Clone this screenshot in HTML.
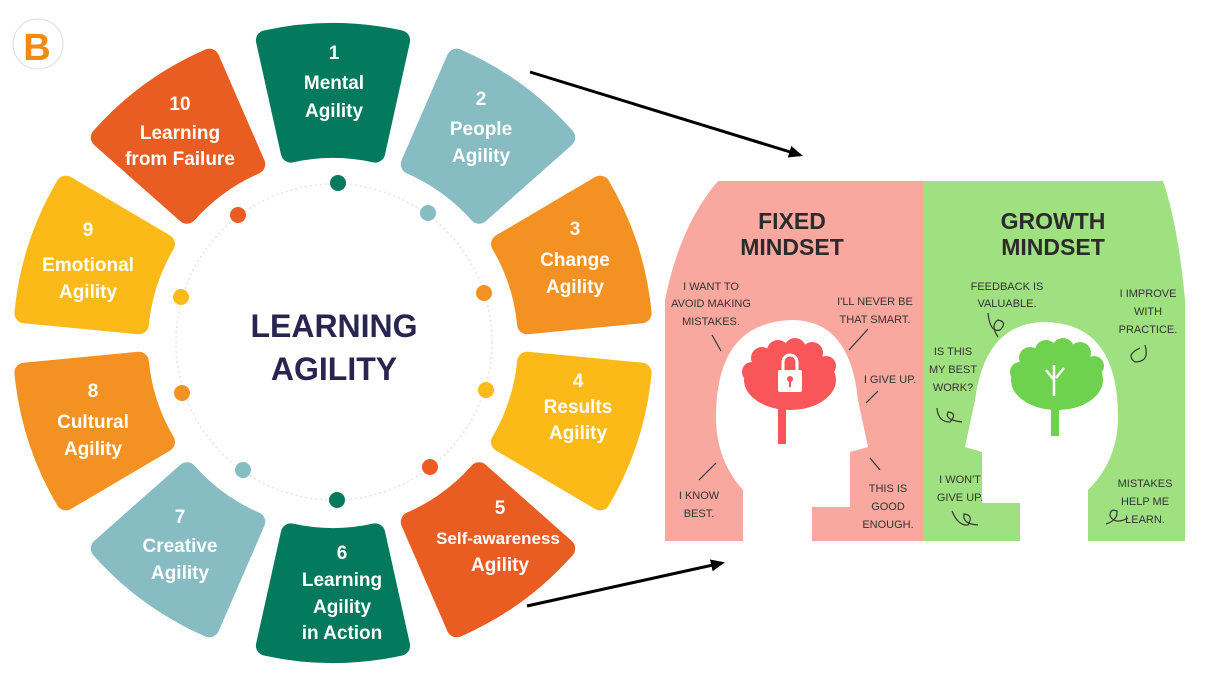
<!DOCTYPE html>
<html><head><meta charset="utf-8"><style>
body{margin:0;background:#fff;width:1219px;height:679px;overflow:hidden}
svg{display:block}
.l{font-family:"Liberation Sans",sans-serif;font-weight:bold;font-size:19px;fill:#fff;text-anchor:middle}
.h{font-family:"Liberation Sans",sans-serif;font-size:11px;fill:#333;text-anchor:middle}
.t{font-family:"Liberation Sans",sans-serif;font-weight:bold;font-size:23px;fill:#2b2b2b;text-anchor:middle}
</style></head><body>
<svg width="1219" height="679" viewBox="0 0 1219 679" xmlns="http://www.w3.org/2000/svg">
<defs>
<path id="seg" d="M265.9,40.3 A310,310 0 0 1 400.1,40.3 L375.2,152.6 A195,195 0 0 0 290.8,152.6 Z" stroke-width="20" stroke-linejoin="round"/>
<marker id="ar" markerWidth="14" markerHeight="14" refX="11" refY="7" orient="auto" markerUnits="userSpaceOnUse"><path d="M0,1 L14,7 L0,13 Z" fill="#000"/></marker>
</defs>
<g>
<use href="#seg" fill="#03795d" stroke="#03795d" transform="rotate(0 333 343)"/>
<use href="#seg" fill="#87bcc2" stroke="#87bcc2" transform="rotate(36 333 343)"/>
<use href="#seg" fill="#f39223" stroke="#f39223" transform="rotate(72 333 343)"/>
<use href="#seg" fill="#fbba18" stroke="#fbba18" transform="rotate(108 333 343)"/>
<use href="#seg" fill="#e95c22" stroke="#e95c22" transform="rotate(144 333 343)"/>
<use href="#seg" fill="#03795d" stroke="#03795d" transform="rotate(180 333 343)"/>
<use href="#seg" fill="#87bcc2" stroke="#87bcc2" transform="rotate(216 333 343)"/>
<use href="#seg" fill="#f39223" stroke="#f39223" transform="rotate(252 333 343)"/>
<use href="#seg" fill="#fbba18" stroke="#fbba18" transform="rotate(288 333 343)"/>
<use href="#seg" fill="#e95c22" stroke="#e95c22" transform="rotate(324 333 343)"/>
</g>
<circle cx="334" cy="342" r="158" fill="none" stroke="#e4e4e4" stroke-width="1.5" stroke-dasharray="2 3"/>
<g>
<circle cx="338" cy="183" r="8" fill="#03795d"/>
<circle cx="428" cy="213" r="8" fill="#87bcc2"/>
<circle cx="484" cy="293" r="8" fill="#f39223"/>
<circle cx="486" cy="390" r="8" fill="#fbba18"/>
<circle cx="430" cy="467" r="8" fill="#e95c22"/>
<circle cx="337" cy="500" r="8" fill="#03795d"/>
<circle cx="243" cy="470" r="8" fill="#87bcc2"/>
<circle cx="182" cy="393" r="8" fill="#f39223"/>
<circle cx="181" cy="297" r="8" fill="#fbba18"/>
<circle cx="238" cy="215" r="8" fill="#e95c22"/>
</g>
<text x="334" y="337" font-family="Liberation Sans,sans-serif" font-weight="bold" font-size="32" fill="#2a2550" text-anchor="middle">LEARNING</text>
<text x="334" y="380" font-family="Liberation Sans,sans-serif" font-weight="bold" font-size="32" fill="#2a2550" text-anchor="middle">AGILITY</text>
<g>
<text class="l" x="334" y="59">1</text><text class="l" x="334" y="89">Mental</text><text class="l" x="334" y="117">Agility</text>
<text class="l" x="481" y="105">2</text><text class="l" x="481" y="135">People</text><text class="l" x="481" y="162">Agility</text>
<text class="l" x="575" y="235">3</text><text class="l" x="575" y="266">Change</text><text class="l" x="575" y="293">Agility</text>
<text class="l" x="578" y="387">4</text><text class="l" x="578" y="413">Results</text><text class="l" x="578" y="439">Agility</text>
<text class="l" x="500" y="514">5</text><text class="l" x="498" y="544" style="font-size:17px">Self-awareness</text><text class="l" x="500" y="571">Agility</text>
<text class="l" x="342" y="559">6</text><text class="l" x="342" y="586">Learning</text><text class="l" x="342" y="613">Agility</text><text class="l" x="342" y="639">in Action</text>
<text class="l" x="180" y="523">7</text><text class="l" x="180" y="552">Creative</text><text class="l" x="180" y="579">Agility</text>
<text class="l" x="93" y="397">8</text><text class="l" x="93" y="428">Cultural</text><text class="l" x="93" y="455">Agility</text>
<text class="l" x="88" y="236">9</text><text class="l" x="88" y="271">Emotional</text><text class="l" x="88" y="298">Agility</text>
<text class="l" x="180" y="110">10</text><text class="l" x="180" y="139">Learning</text><text class="l" x="180" y="165">from Failure</text>
</g>
<circle cx="38" cy="44" r="25" fill="#fff" stroke="#ddd" stroke-width="1"/>
<text x="37" y="60" font-family="Liberation Sans,sans-serif" font-weight="bold" font-size="38" fill="#f08a10" text-anchor="middle">B</text>
<line x1="530" y1="72" x2="800" y2="155" stroke="#000" stroke-width="3" marker-end="url(#ar)"/>
<line x1="527" y1="606" x2="722" y2="563" stroke="#000" stroke-width="3" marker-end="url(#ar)"/>
<path d="M718,181 L923,181 L923,541 L665,541 L665,300 Q680,225 718,181 Z" fill="#f8a89e"/>
<path d="M923,181 L1163,181 Q1178,225 1185,300 L1185,541 L923,541 Z" fill="#9fe080"/>
<path d="M743,541 L743,490 Q716,460 716,417 Q716,322 792,320 Q850,320 858,400 L868,447 L850,452 L850,507 L812,507 L812,541 Z" fill="#fff"/>
<path d="M1088,541 L1088,490 Q1118,460 1118,417 Q1118,322 1043,322 Q985,324 975,400 L965,447 L982,452 L982,503 L1020,503 L1020,541 Z" fill="#fff"/>
<g fill="#f9565a">
<ellipse cx="790" cy="380" rx="46" ry="30"/>
<circle cx="762" cy="358" r="11"/><circle cx="778" cy="351" r="11"/><circle cx="795" cy="349" r="11"/><circle cx="812" cy="353" r="11"/><circle cx="826" cy="366" r="10"/><circle cx="752" cy="372" r="10"/>
<rect x="778" y="400" width="8" height="44"/>
</g>
<rect x="778" y="370" width="24" height="22" rx="2" fill="#fff"/>
<path d="M783,370 v-8 a7,7 0 0 1 14,0 v8" fill="none" stroke="#fff" stroke-width="3"/>
<circle cx="790" cy="379" r="3" fill="#f9565a"/><rect x="789" y="380" width="2" height="7" fill="#f9565a"/>
<g fill="#6fd24e">
<ellipse cx="1057" cy="380" rx="46" ry="30"/>
<circle cx="1030" cy="358" r="11"/><circle cx="1046" cy="351" r="11"/><circle cx="1063" cy="349" r="11"/><circle cx="1080" cy="353" r="11"/><circle cx="1094" cy="366" r="10"/><circle cx="1020" cy="372" r="10"/>
<rect x="1051" y="400" width="8" height="36"/>
</g>
<path d="M1054,396 L1054,365 M1054,380 L1046,370 M1056,378 L1064,368" stroke="#fff" stroke-width="2.5" fill="none"/>
<text class="t" x="792" y="229">FIXED</text><text class="t" x="792" y="255">MINDSET</text>
<text class="t" x="1053" y="229">GROWTH</text><text class="t" x="1053" y="255">MINDSET</text>
<g>
<text class="h" x="711" y="290">I WANT TO</text><text class="h" x="711" y="307">AVOID MAKING</text><text class="h" x="711" y="325">MISTAKES.</text>
<text class="h" x="875" y="305">I'LL NEVER BE</text><text class="h" x="875" y="323">THAT SMART.</text>
<text class="h" x="890" y="383">I GIVE UP.</text>
<text class="h" x="699" y="499">I KNOW</text><text class="h" x="699" y="517">BEST.</text>
<text class="h" x="888" y="492">THIS IS</text><text class="h" x="888" y="510">GOOD</text><text class="h" x="888" y="528">ENOUGH.</text>
<text class="h" x="1007" y="290">FEEDBACK IS</text><text class="h" x="1007" y="307">VALUABLE.</text>
<text class="h" x="1148" y="297">I IMPROVE</text><text class="h" x="1148" y="315">WITH</text><text class="h" x="1148" y="333">PRACTICE.</text>
<text class="h" x="953" y="355">IS THIS</text><text class="h" x="953" y="373">MY BEST</text><text class="h" x="953" y="391">WORK?</text>
<text class="h" x="960" y="483">I WON'T</text><text class="h" x="960" y="501">GIVE UP.</text>
<text class="h" x="1145" y="487">MISTAKES</text><text class="h" x="1145" y="505">HELP ME</text><text class="h" x="1145" y="523">LEARN.</text>
</g>
<g stroke="#333" stroke-width="1.2" fill="none">
<path d="M712,335 L721,351"/><path d="M849,350 L868,329"/><path d="M866,403 L878,391"/><path d="M699,480 L716,463"/><path d="M870,458 L880,470"/>
<path d="M988,313 Q990,333 1000,330 Q1008,322 998,320 Q990,325 998,337"/>
<path d="M1145,345 Q1150,362 1135,362 Q1125,355 1140,348"/>
<path d="M937,408 Q938,422 950,422 Q958,413 948,412 Q944,420 962,422"/>
<path d="M952,511 Q958,526 968,525 Q974,515 964,514 Q962,524 978,525"/>
<path d="M1106,524 Q1118,520 1117,511 Q1110,508 1110,516 Q1115,525 1128,518"/>
</g>
</svg>
</body></html>
